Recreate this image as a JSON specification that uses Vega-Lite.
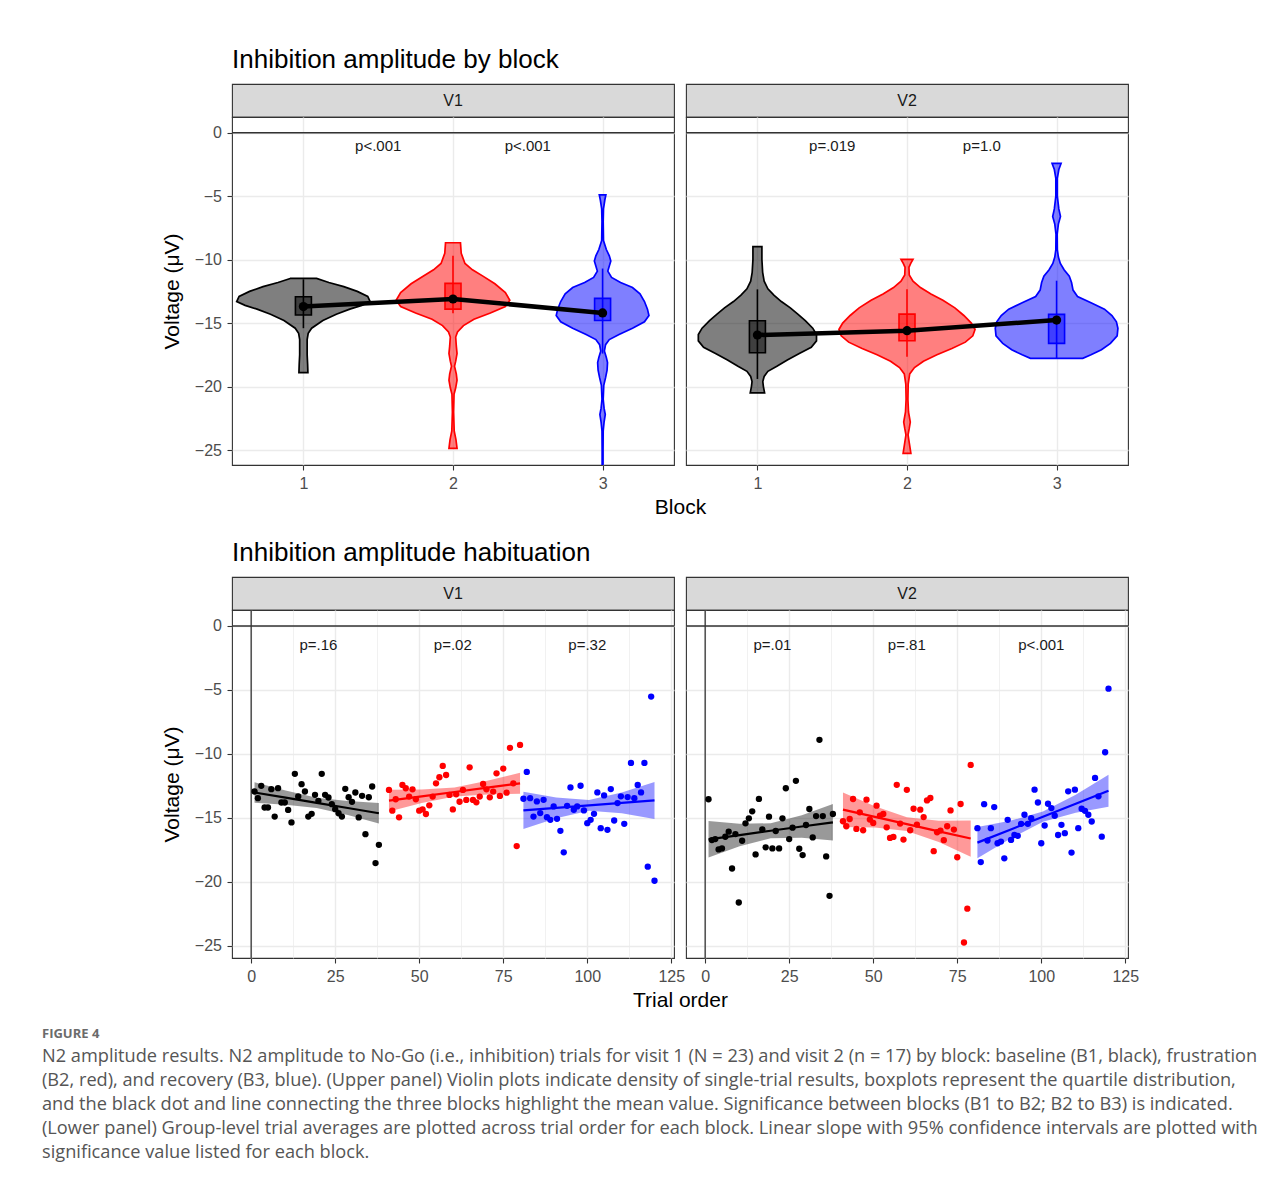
{
"$schema": "https://vega.github.io/schema/vega-lite/v6.json",
"background": "white",
"padding": {"left": 41, "top": 46, "right": 5, "bottom": 5},
"columns": 2,
"bounds": "flush",
"align": "each",
"spacing": {"row": 0, "column": 12},
"datasets": {
"strip": [{"visit": "V1"}, {"visit": "V2"}],
"vio": [
{"visit":"V1","block":1,"v":-11.48,"w":0.088},{"visit":"V1","block":1,"v":-11.8,"w":0.17},{"visit":"V1","block":1,"v":-12.13,"w":0.27},{"visit":"V1","block":1,"v":-12.5,"w":0.36},{"visit":"V1","block":1,"v":-12.9,"w":0.43},{"visit":"V1","block":1,"v":-13.3,"w":0.446},{"visit":"V1","block":1,"v":-13.6,"w":0.39},{"visit":"V1","block":1,"v":-13.9,"w":0.31},{"visit":"V1","block":1,"v":-14.3,"w":0.22},{"visit":"V1","block":1,"v":-14.8,"w":0.13},{"visit":"V1","block":1,"v":-15.4,"w":0.055},{"visit":"V1","block":1,"v":-15.8,"w":0.032},{"visit":"V1","block":1,"v":-16.3,"w":0.025},{"visit":"V1","block":1,"v":-17.5,"w":0.025},{"visit":"V1","block":1,"v":-18.2,"w":0.028},{"visit":"V1","block":1,"v":-18.9,"w":0.03},
{"visit":"V1","block":2,"v":-8.67,"w":0.05},{"visit":"V1","block":2,"v":-9.5,"w":0.055},{"visit":"V1","block":2,"v":-10.3,"w":0.08},{"visit":"V1","block":2,"v":-10.8,"w":0.13},{"visit":"V1","block":2,"v":-11.3,"w":0.2},{"visit":"V1","block":2,"v":-11.9,"w":0.28},{"visit":"V1","block":2,"v":-12.6,"w":0.35},{"visit":"V1","block":2,"v":-13.2,"w":0.38},{"visit":"V1","block":2,"v":-13.7,"w":0.35},{"visit":"V1","block":2,"v":-14.2,"w":0.25},{"visit":"V1","block":2,"v":-14.7,"w":0.14},{"visit":"V1","block":2,"v":-15.2,"w":0.07},{"visit":"V1","block":2,"v":-15.7,"w":0.03},{"visit":"V1","block":2,"v":-16.1,"w":0.018},{"visit":"V1","block":2,"v":-16.8,"w":0.022},{"visit":"V1","block":2,"v":-17.4,"w":0.027},{"visit":"V1","block":2,"v":-18.0,"w":0.018},{"visit":"V1","block":2,"v":-18.4,"w":0.01},{"visit":"V1","block":2,"v":-19.0,"w":0.022},{"visit":"V1","block":2,"v":-19.5,"w":0.027},{"visit":"V1","block":2,"v":-20.1,"w":0.018},{"visit":"V1","block":2,"v":-20.6,"w":0.007},{"visit":"V1","block":2,"v":-22.0,"w":0.004},{"visit":"V1","block":2,"v":-23.5,"w":0.008},{"visit":"V1","block":2,"v":-24.2,"w":0.02},{"visit":"V1","block":2,"v":-24.87,"w":0.027},
{"visit":"V1","block":3,"v":-4.9,"w":0.022},{"visit":"V1","block":3,"v":-5.3,"w":0.015},{"visit":"V1","block":3,"v":-6.0,"w":0.006},{"visit":"V1","block":3,"v":-7.0,"w":0.004},{"visit":"V1","block":3,"v":-8.5,"w":0.006},{"visit":"V1","block":3,"v":-9.2,"w":0.025},{"visit":"V1","block":3,"v":-9.7,"w":0.045},{"visit":"V1","block":3,"v":-10.1,"w":0.055},{"visit":"V1","block":3,"v":-10.5,"w":0.045},{"visit":"V1","block":3,"v":-10.9,"w":0.035},{"visit":"V1","block":3,"v":-11.4,"w":0.06},{"visit":"V1","block":3,"v":-11.8,"w":0.12},{"visit":"V1","block":3,"v":-12.2,"w":0.2},{"visit":"V1","block":3,"v":-12.7,"w":0.25},{"visit":"V1","block":3,"v":-13.3,"w":0.28},{"visit":"V1","block":3,"v":-13.9,"w":0.3},{"visit":"V1","block":3,"v":-14.4,"w":0.31},{"visit":"V1","block":3,"v":-14.9,"w":0.28},{"visit":"V1","block":3,"v":-15.4,"w":0.2},{"visit":"V1","block":3,"v":-15.9,"w":0.11},{"visit":"V1","block":3,"v":-16.3,"w":0.045},{"visit":"V1","block":3,"v":-16.7,"w":0.02},{"visit":"V1","block":3,"v":-17.2,"w":0.012},{"visit":"V1","block":3,"v":-17.7,"w":0.025},{"visit":"V1","block":3,"v":-18.1,"w":0.033},{"visit":"V1","block":3,"v":-18.7,"w":0.03},{"visit":"V1","block":3,"v":-19.3,"w":0.02},{"visit":"V1","block":3,"v":-19.9,"w":0.008},{"visit":"V1","block":3,"v":-21.0,"w":0.004},{"visit":"V1","block":3,"v":-21.7,"w":0.01},{"visit":"V1","block":3,"v":-22.2,"w":0.018},{"visit":"V1","block":3,"v":-22.8,"w":0.01},{"visit":"V1","block":3,"v":-23.5,"w":0.004},{"visit":"V1","block":3,"v":-25.0,"w":0.003},{"visit":"V1","block":3,"v":-26.5,"w":0.003},
{"visit":"V2","block":1,"v":-8.98,"w":0.03},{"visit":"V2","block":1,"v":-10.0,"w":0.03},{"visit":"V2","block":1,"v":-11.0,"w":0.035},{"visit":"V2","block":1,"v":-11.7,"w":0.045},{"visit":"V2","block":1,"v":-12.3,"w":0.07},{"visit":"V2","block":1,"v":-12.8,"w":0.11},{"visit":"V2","block":1,"v":-13.3,"w":0.16},{"visit":"V2","block":1,"v":-13.8,"w":0.22},{"visit":"V2","block":1,"v":-14.3,"w":0.27},{"visit":"V2","block":1,"v":-14.8,"w":0.32},{"visit":"V2","block":1,"v":-15.4,"w":0.37},{"visit":"V2","block":1,"v":-15.9,"w":0.395},{"visit":"V2","block":1,"v":-16.4,"w":0.395},{"visit":"V2","block":1,"v":-16.9,"w":0.36},{"visit":"V2","block":1,"v":-17.4,"w":0.28},{"visit":"V2","block":1,"v":-17.9,"w":0.2},{"visit":"V2","block":1,"v":-18.4,"w":0.13},{"visit":"V2","block":1,"v":-18.8,"w":0.07},{"visit":"V2","block":1,"v":-19.2,"w":0.045},{"visit":"V2","block":1,"v":-19.6,"w":0.036},{"visit":"V2","block":1,"v":-20.0,"w":0.04},{"visit":"V2","block":1,"v":-20.5,"w":0.048},
{"visit":"V2","block":2,"v":-9.98,"w":0.04},{"visit":"V2","block":2,"v":-10.3,"w":0.025},{"visit":"V2","block":2,"v":-10.6,"w":0.013},{"visit":"V2","block":2,"v":-11.2,"w":0.015},{"visit":"V2","block":2,"v":-11.7,"w":0.04},{"visit":"V2","block":2,"v":-12.2,"w":0.09},{"visit":"V2","block":2,"v":-12.7,"w":0.16},{"visit":"V2","block":2,"v":-13.2,"w":0.24},{"visit":"V2","block":2,"v":-13.8,"w":0.32},{"visit":"V2","block":2,"v":-14.4,"w":0.38},{"visit":"V2","block":2,"v":-15.0,"w":0.43},{"visit":"V2","block":2,"v":-15.5,"w":0.455},{"visit":"V2","block":2,"v":-16.0,"w":0.44},{"visit":"V2","block":2,"v":-16.5,"w":0.39},{"visit":"V2","block":2,"v":-17.0,"w":0.3},{"visit":"V2","block":2,"v":-17.5,"w":0.2},{"visit":"V2","block":2,"v":-18.0,"w":0.11},{"visit":"V2","block":2,"v":-18.5,"w":0.05},{"visit":"V2","block":2,"v":-19.0,"w":0.018},{"visit":"V2","block":2,"v":-19.8,"w":0.008},{"visit":"V2","block":2,"v":-21.0,"w":0.006},{"visit":"V2","block":2,"v":-22.0,"w":0.01},{"visit":"V2","block":2,"v":-22.8,"w":0.022},{"visit":"V2","block":2,"v":-23.3,"w":0.015},{"visit":"V2","block":2,"v":-23.8,"w":0.007},{"visit":"V2","block":2,"v":-24.5,"w":0.016},{"visit":"V2","block":2,"v":-25.26,"w":0.026},
{"visit":"V2","block":3,"v":-2.42,"w":0.03},{"visit":"V2","block":3,"v":-2.9,"w":0.015},{"visit":"V2","block":3,"v":-3.6,"w":0.005},{"visit":"V2","block":3,"v":-5.0,"w":0.005},{"visit":"V2","block":3,"v":-6.0,"w":0.015},{"visit":"V2","block":3,"v":-6.6,"w":0.026},{"visit":"V2","block":3,"v":-7.2,"w":0.012},{"visit":"V2","block":3,"v":-8.0,"w":0.004},{"visit":"V2","block":3,"v":-9.2,"w":0.005},{"visit":"V2","block":3,"v":-9.8,"w":0.012},{"visit":"V2","block":3,"v":-10.3,"w":0.025},{"visit":"V2","block":3,"v":-10.8,"w":0.05},{"visit":"V2","block":3,"v":-11.3,"w":0.085},{"visit":"V2","block":3,"v":-11.8,"w":0.1},{"visit":"V2","block":3,"v":-12.4,"w":0.11},{"visit":"V2","block":3,"v":-12.9,"w":0.14},{"visit":"V2","block":3,"v":-13.4,"w":0.23},{"visit":"V2","block":3,"v":-13.9,"w":0.32},{"visit":"V2","block":3,"v":-14.4,"w":0.37},{"visit":"V2","block":3,"v":-14.9,"w":0.4},{"visit":"V2","block":3,"v":-15.4,"w":0.41},{"visit":"V2","block":3,"v":-16.0,"w":0.405},{"visit":"V2","block":3,"v":-16.6,"w":0.36},{"visit":"V2","block":3,"v":-17.1,"w":0.3},{"visit":"V2","block":3,"v":-17.5,"w":0.23},{"visit":"V2","block":3,"v":-17.78,"w":0.175}
],
"box": [
{"visit":"V1","block":1,"q1":-14.36,"q3":-12.92,"lo":-15.4,"hi":-11.55,"mean":-13.7},
{"visit":"V1","block":2,"q1":-13.9,"q3":-11.87,"lo":-14.23,"hi":-9.7,"mean":-13.1},
{"visit":"V1","block":3,"q1":-14.8,"q3":-13.05,"lo":-17.4,"hi":-10.7,"mean":-14.2},
{"visit":"V2","block":1,"q1":-17.33,"q3":-14.81,"lo":-19.4,"hi":-12.34,"mean":-15.94},
{"visit":"V2","block":2,"q1":-16.39,"q3":-14.29,"lo":-17.65,"hi":-12.34,"mean":-15.6},
{"visit":"V2","block":3,"q1":-16.6,"q3":-14.31,"lo":-17.78,"hi":-11.66,"mean":-14.76}
],
"band": [
{"visit":"V1","block":1,"t":1,"fit":-13.02,"lo":-13.82,"hi":-12.22},{"visit":"V1","block":1,"t":10.25,"fit":-13.42,"lo":-13.97,"hi":-12.87},{"visit":"V1","block":1,"t":19.5,"fit":-13.83,"lo":-14.23,"hi":-13.43},{"visit":"V1","block":1,"t":28.75,"fit":-14.23,"lo":-14.78,"hi":-13.68},{"visit":"V1","block":1,"t":38,"fit":-14.64,"lo":-15.44,"hi":-13.84},
{"visit":"V1","block":2,"t":41,"fit":-13.66,"lo":-14.51,"hi":-12.81},{"visit":"V1","block":2,"t":50.75,"fit":-13.32,"lo":-13.85,"hi":-12.79},{"visit":"V1","block":2,"t":60.5,"fit":-12.98,"lo":-13.33,"hi":-12.63},{"visit":"V1","block":2,"t":70.25,"fit":-12.64,"lo":-13.17,"hi":-12.11},{"visit":"V1","block":2,"t":80,"fit":-12.3,"lo":-13.12,"hi":-11.48},
{"visit":"V1","block":3,"t":81,"fit":-14.42,"lo":-15.87,"hi":-12.97},{"visit":"V1","block":3,"t":90.75,"fit":-14.22,"lo":-15.03,"hi":-13.41},{"visit":"V1","block":3,"t":100.5,"fit":-14.03,"lo":-14.45,"hi":-13.61},{"visit":"V1","block":3,"t":110.25,"fit":-13.83,"lo":-14.64,"hi":-13.02},{"visit":"V1","block":3,"t":120,"fit":-13.64,"lo":-15.09,"hi":-12.19},
{"visit":"V2","block":1,"t":1,"fit":-16.68,"lo":-18.11,"hi":-15.25},{"visit":"V2","block":1,"t":10.25,"fit":-16.35,"lo":-17.23,"hi":-15.47},{"visit":"V2","block":1,"t":19.5,"fit":-16.01,"lo":-16.6,"hi":-15.42},{"visit":"V2","block":1,"t":28.75,"fit":-15.68,"lo":-16.56,"hi":-14.8},{"visit":"V2","block":1,"t":38,"fit":-15.35,"lo":-16.78,"hi":-13.92},
{"visit":"V2","block":2,"t":41,"fit":-14.36,"lo":-15.71,"hi":-13.01},{"visit":"V2","block":2,"t":50.5,"fit":-14.93,"lo":-15.76,"hi":-14.1},{"visit":"V2","block":2,"t":60,"fit":-15.49,"lo":-16.03,"hi":-14.95},{"visit":"V2","block":2,"t":69.5,"fit":-16.06,"lo":-16.89,"hi":-15.23},{"visit":"V2","block":2,"t":79,"fit":-16.62,"lo":-18.04,"hi":-15.2},
{"visit":"V2","block":3,"t":81,"fit":-16.94,"lo":-18.17,"hi":-15.71},{"visit":"V2","block":3,"t":90.75,"fit":-15.93,"lo":-16.63,"hi":-15.23},{"visit":"V2","block":3,"t":100.5,"fit":-14.91,"lo":-15.31,"hi":-14.51},{"visit":"V2","block":3,"t":110.25,"fit":-13.9,"lo":-14.6,"hi":-13.2},{"visit":"V2","block":3,"t":120,"fit":-12.88,"lo":-14.13,"hi":-11.63}
],
"plab": [
{"visit":"V1","panel":"up","x":1.5,"label":"p<.001"},{"visit":"V1","panel":"up","x":2.5,"label":"p<.001"},
{"visit":"V2","panel":"up","x":1.5,"label":"p=.019"},{"visit":"V2","panel":"up","x":2.5,"label":"p=1.0"},
{"visit":"V1","panel":"low","x":20,"label":"p=.16"},{"visit":"V1","panel":"low","x":60,"label":"p=.02"},{"visit":"V1","panel":"low","x":100,"label":"p=.32"},
{"visit":"V2","panel":"low","x":20,"label":"p=.01"},{"visit":"V2","panel":"low","x":60,"label":"p=.81"},{"visit":"V2","panel":"low","x":100,"label":"p<.001"}
],
"pts": [
{"visit":"V1","block":1,"t":1,"v":-12.94},{"visit":"V1","block":1,"t":2,"v":-13.46},{"visit":"V1","block":1,"t":3,"v":-12.5},{"visit":"V1","block":1,"t":4,"v":-14.19},{"visit":"V1","block":1,"t":5,"v":-14.19},{"visit":"V1","block":1,"t":6,"v":-12.76},{"visit":"V1","block":1,"t":7,"v":-14.9},{"visit":"V1","block":1,"t":8,"v":-12.68},{"visit":"V1","block":1,"t":9,"v":-13.8},{"visit":"V1","block":1,"t":10,"v":-13.8},{"visit":"V1","block":1,"t":11,"v":-14.38},{"visit":"V1","block":1,"t":12,"v":-15.36},{"visit":"V1","block":1,"t":13,"v":-11.56},{"visit":"V1","block":1,"t":14,"v":-13.33},{"visit":"V1","block":1,"t":15,"v":-12.37},{"visit":"V1","block":1,"t":16,"v":-12.94},{"visit":"V1","block":1,"t":17,"v":-14.9},{"visit":"V1","block":1,"t":18,"v":-14.69},{"visit":"V1","block":1,"t":19,"v":-13.2},{"visit":"V1","block":1,"t":20,"v":-13.67},{"visit":"V1","block":1,"t":21,"v":-11.56},{"visit":"V1","block":1,"t":22,"v":-13.2},{"visit":"V1","block":1,"t":23,"v":-13.41},{"visit":"V1","block":1,"t":24,"v":-13.93},{"visit":"V1","block":1,"t":25,"v":-14.32},{"visit":"V1","block":1,"t":26,"v":-14.64},{"visit":"V1","block":1,"t":27,"v":-14.9},{"visit":"V1","block":1,"t":28,"v":-12.73},{"visit":"V1","block":1,"t":29,"v":-13.39},{"visit":"V1","block":1,"t":30,"v":-13.75},{"visit":"V1","block":1,"t":31,"v":-13.02},{"visit":"V1","block":1,"t":32,"v":-14.97},{"visit":"V1","block":1,"t":33,"v":-13.28},{"visit":"V1","block":1,"t":34,"v":-16.28},{"visit":"V1","block":1,"t":35,"v":-13.39},{"visit":"V1","block":1,"t":36,"v":-12.55},{"visit":"V1","block":1,"t":37,"v":-18.54},{"visit":"V1","block":1,"t":38,"v":-17.11},
{"visit":"V1","block":2,"t":41,"v":-12.82},{"visit":"V1","block":2,"t":42,"v":-14.44},{"visit":"V1","block":2,"t":43,"v":-13.55},{"visit":"V1","block":2,"t":44,"v":-14.96},{"visit":"V1","block":2,"t":45,"v":-12.43},{"visit":"V1","block":2,"t":46,"v":-12.69},{"visit":"V1","block":2,"t":47,"v":-13.34},{"visit":"V1","block":2,"t":48,"v":-12.77},{"visit":"V1","block":2,"t":49,"v":-13.55},{"visit":"V1","block":2,"t":50,"v":-14.44},{"visit":"V1","block":2,"t":51,"v":-14.34},{"visit":"V1","block":2,"t":52,"v":-14.7},{"visit":"V1","block":2,"t":53,"v":-14.02},{"visit":"V1","block":2,"t":54,"v":-13.34},{"visit":"V1","block":2,"t":55,"v":-12.3},{"visit":"V1","block":2,"t":56,"v":-11.83},{"visit":"V1","block":2,"t":57,"v":-10.94},{"visit":"V1","block":2,"t":58,"v":-11.65},{"visit":"V1","block":2,"t":59,"v":-13.21},{"visit":"V1","block":2,"t":60,"v":-14.34},{"visit":"V1","block":2,"t":61,"v":-13.16},{"visit":"V1","block":2,"t":62,"v":-13.74},{"visit":"V1","block":2,"t":63,"v":-12.82},{"visit":"V1","block":2,"t":64,"v":-13.6},{"visit":"V1","block":2,"t":65,"v":-11.05},{"visit":"V1","block":2,"t":66,"v":-13.6},{"visit":"V1","block":2,"t":67,"v":-13.79},{"visit":"V1","block":2,"t":68,"v":-13.34},{"visit":"V1","block":2,"t":69,"v":-12.35},{"visit":"V1","block":2,"t":70,"v":-12.77},{"visit":"V1","block":2,"t":71,"v":-13.4},{"visit":"V1","block":2,"t":72,"v":-12.95},{"visit":"V1","block":2,"t":73,"v":-11.52},{"visit":"V1","block":2,"t":74,"v":-13.29},{"visit":"V1","block":2,"t":75,"v":-11.15},{"visit":"V1","block":2,"t":76,"v":-13.03},{"visit":"V1","block":2,"t":77,"v":-9.53},{"visit":"V1","block":2,"t":78,"v":-12.3},{"visit":"V1","block":2,"t":79,"v":-17.21},{"visit":"V1","block":2,"t":80,"v":-9.3},
{"visit":"V1","block":3,"t":81,"v":-13.51},{"visit":"V1","block":3,"t":82,"v":-11.41},{"visit":"V1","block":3,"t":83,"v":-13.46},{"visit":"V1","block":3,"t":84,"v":-14.9},{"visit":"V1","block":3,"t":85,"v":-13.72},{"visit":"V1","block":3,"t":86,"v":-14.63},{"visit":"V1","block":3,"t":87,"v":-13.59},{"visit":"V1","block":3,"t":88,"v":-14.95},{"visit":"V1","block":3,"t":89,"v":-15.16},{"visit":"V1","block":3,"t":90,"v":-14.11},{"visit":"V1","block":3,"t":91,"v":-15.08},{"visit":"V1","block":3,"t":92,"v":-16.02},{"visit":"V1","block":3,"t":93,"v":-17.7},{"visit":"V1","block":3,"t":94,"v":-14.06},{"visit":"V1","block":3,"t":95,"v":-12.62},{"visit":"V1","block":3,"t":96,"v":-14.37},{"visit":"V1","block":3,"t":97,"v":-14.11},{"visit":"V1","block":3,"t":98,"v":-12.49},{"visit":"V1","block":3,"t":99,"v":-14.42},{"visit":"V1","block":3,"t":100,"v":-15.42},{"visit":"V1","block":3,"t":101,"v":-15.16},{"visit":"V1","block":3,"t":102,"v":-14.69},{"visit":"V1","block":3,"t":103,"v":-13.01},{"visit":"V1","block":3,"t":104,"v":-15.81},{"visit":"V1","block":3,"t":105,"v":-13.25},{"visit":"V1","block":3,"t":106,"v":-15.94},{"visit":"V1","block":3,"t":107,"v":-12.75},{"visit":"V1","block":3,"t":108,"v":-15.21},{"visit":"V1","block":3,"t":109,"v":-13.85},{"visit":"V1","block":3,"t":110,"v":-13.32},{"visit":"V1","block":3,"t":111,"v":-15.47},{"visit":"V1","block":3,"t":112,"v":-13.38},{"visit":"V1","block":3,"t":113,"v":-10.71},{"visit":"V1","block":3,"t":114,"v":-13.46},{"visit":"V1","block":3,"t":115,"v":-12.43},{"visit":"V1","block":3,"t":116,"v":-13.01},{"visit":"V1","block":3,"t":117,"v":-10.71},{"visit":"V1","block":3,"t":118,"v":-18.82},{"visit":"V1","block":3,"t":119,"v":-5.52},{"visit":"V1","block":3,"t":120,"v":-19.92},
{"visit":"V2","block":1,"t":1,"v":-13.55},{"visit":"V2","block":1,"t":2,"v":-16.74},{"visit":"V2","block":1,"t":3,"v":-16.66},{"visit":"V2","block":1,"t":4,"v":-17.47},{"visit":"V2","block":1,"t":5,"v":-17.39},{"visit":"V2","block":1,"t":6,"v":-16.48},{"visit":"V2","block":1,"t":7,"v":-16.08},{"visit":"V2","block":1,"t":8,"v":-18.96},{"visit":"V2","block":1,"t":9,"v":-16.27},{"visit":"V2","block":1,"t":10,"v":-21.62},{"visit":"V2","block":1,"t":11,"v":-16.79},{"visit":"V2","block":1,"t":12,"v":-15.43},{"visit":"V2","block":1,"t":13,"v":-15.04},{"visit":"V2","block":1,"t":14,"v":-14.49},{"visit":"V2","block":1,"t":15,"v":-17.86},{"visit":"V2","block":1,"t":16,"v":-13.52},{"visit":"V2","block":1,"t":17,"v":-15.9},{"visit":"V2","block":1,"t":18,"v":-17.31},{"visit":"V2","block":1,"t":19,"v":-14.91},{"visit":"V2","block":1,"t":20,"v":-17.39},{"visit":"V2","block":1,"t":21,"v":-16.03},{"visit":"V2","block":1,"t":22,"v":-17.39},{"visit":"V2","block":1,"t":23,"v":-15.04},{"visit":"V2","block":1,"t":24,"v":-12.69},{"visit":"V2","block":1,"t":25,"v":-16.66},{"visit":"V2","block":1,"t":26,"v":-15.77},{"visit":"V2","block":1,"t":27,"v":-12.11},{"visit":"V2","block":1,"t":28,"v":-17.42},{"visit":"V2","block":1,"t":29,"v":-17.91},{"visit":"V2","block":1,"t":30,"v":-15.56},{"visit":"V2","block":1,"t":31,"v":-14.31},{"visit":"V2","block":1,"t":32,"v":-16.53},{"visit":"V2","block":1,"t":33,"v":-14.86},{"visit":"V2","block":1,"t":34,"v":-8.9},{"visit":"V2","block":1,"t":35,"v":-14.86},{"visit":"V2","block":1,"t":36,"v":-18.02},{"visit":"V2","block":1,"t":37,"v":-21.1},{"visit":"V2","block":1,"t":38,"v":-14.7},
{"visit":"V2","block":2,"t":41,"v":-15.27},{"visit":"V2","block":2,"t":42,"v":-15.66},{"visit":"V2","block":2,"t":43,"v":-15.09},{"visit":"V2","block":2,"t":44,"v":-13.53},{"visit":"V2","block":2,"t":45,"v":-15.87},{"visit":"V2","block":2,"t":46,"v":-14.57},{"visit":"V2","block":2,"t":47,"v":-15.97},{"visit":"V2","block":2,"t":48,"v":-13.58},{"visit":"V2","block":2,"t":49,"v":-15.14},{"visit":"V2","block":2,"t":50,"v":-15.4},{"visit":"V2","block":2,"t":51,"v":-14.05},{"visit":"V2","block":2,"t":52,"v":-14.83},{"visit":"V2","block":2,"t":53,"v":-14.7},{"visit":"V2","block":2,"t":54,"v":-15.74},{"visit":"V2","block":2,"t":55,"v":-16.57},{"visit":"V2","block":2,"t":56,"v":-16.49},{"visit":"V2","block":2,"t":57,"v":-12.42},{"visit":"V2","block":2,"t":58,"v":-15.45},{"visit":"V2","block":2,"t":59,"v":-16.7},{"visit":"V2","block":2,"t":60,"v":-12.81},{"visit":"V2","block":2,"t":61,"v":-15.97},{"visit":"V2","block":2,"t":62,"v":-14.29},{"visit":"V2","block":2,"t":63,"v":-15.53},{"visit":"V2","block":2,"t":64,"v":-14.36},{"visit":"V2","block":2,"t":65,"v":-14.94},{"visit":"V2","block":2,"t":66,"v":-13.64},{"visit":"V2","block":2,"t":67,"v":-13.45},{"visit":"V2","block":2,"t":68,"v":-17.61},{"visit":"V2","block":2,"t":69,"v":-16.13},{"visit":"V2","block":2,"t":70,"v":-16.0},{"visit":"V2","block":2,"t":71,"v":-16.75},{"visit":"V2","block":2,"t":72,"v":-15.66},{"visit":"V2","block":2,"t":73,"v":-14.42},{"visit":"V2","block":2,"t":74,"v":-15.92},{"visit":"V2","block":2,"t":75,"v":-18.08},{"visit":"V2","block":2,"t":76,"v":-13.92},{"visit":"V2","block":2,"t":77,"v":-24.75},{"visit":"V2","block":2,"t":78,"v":-22.1},{"visit":"V2","block":2,"t":79,"v":-10.86},
{"visit":"V2","block":3,"t":81,"v":-15.81},{"visit":"V2","block":3,"t":82,"v":-18.46},{"visit":"V2","block":3,"t":83,"v":-13.93},{"visit":"V2","block":3,"t":84,"v":-16.78},{"visit":"V2","block":3,"t":85,"v":-15.81},{"visit":"V2","block":3,"t":86,"v":-14.16},{"visit":"V2","block":3,"t":87,"v":-16.99},{"visit":"V2","block":3,"t":88,"v":-16.86},{"visit":"V2","block":3,"t":89,"v":-18.17},{"visit":"V2","block":3,"t":90,"v":-15.16},{"visit":"V2","block":3,"t":91,"v":-16.73},{"visit":"V2","block":3,"t":92,"v":-16.34},{"visit":"V2","block":3,"t":93,"v":-16.41},{"visit":"V2","block":3,"t":94,"v":-15.47},{"visit":"V2","block":3,"t":95,"v":-14.76},{"visit":"V2","block":3,"t":96,"v":-15.47},{"visit":"V2","block":3,"t":97,"v":-15.03},{"visit":"V2","block":3,"t":98,"v":-12.8},{"visit":"V2","block":3,"t":99,"v":-13.8},{"visit":"V2","block":3,"t":100,"v":-16.99},{"visit":"V2","block":3,"t":101,"v":-15.6},{"visit":"V2","block":3,"t":102,"v":-13.9},{"visit":"V2","block":3,"t":103,"v":-14.24},{"visit":"V2","block":3,"t":104,"v":-14.84},{"visit":"V2","block":3,"t":105,"v":-16.34},{"visit":"V2","block":3,"t":106,"v":-15.55},{"visit":"V2","block":3,"t":107,"v":-16.2},{"visit":"V2","block":3,"t":108,"v":-12.93},{"visit":"V2","block":3,"t":109,"v":-17.72},{"visit":"V2","block":3,"t":110,"v":-12.8},{"visit":"V2","block":3,"t":111,"v":-15.81},{"visit":"V2","block":3,"t":112,"v":-14.29},{"visit":"V2","block":3,"t":113,"v":-14.45},{"visit":"V2","block":3,"t":114,"v":-14.76},{"visit":"V2","block":3,"t":115,"v":-15.29},{"visit":"V2","block":3,"t":116,"v":-11.88},{"visit":"V2","block":3,"t":117,"v":-13.32},{"visit":"V2","block":3,"t":118,"v":-16.47},{"visit":"V2","block":3,"t":119,"v":-9.87},{"visit":"V2","block":3,"t":120,"v":-4.9}
]
},
"concat": [
{"width": 442, "height": 33, "view": {"fill": "#D9D9D9", "stroke": "#333333", "strokeWidth": 1.1},
 "title": {"text": "Inhibition amplitude by block"},
 "data": {"name": "strip"}, "transform": [{"filter": "datum.visit === 'V1'"}],
 "mark": {"type": "text", "fontSize": 16, "color": "#1A1A1A"},
 "encoding": {"text": {"field": "visit"}}},
{"width": 442, "height": 33, "view": {"fill": "#D9D9D9", "stroke": "#333333", "strokeWidth": 1.1},
 "data": {"name": "strip"}, "transform": [{"filter": "datum.visit === 'V2'"}],
 "mark": {"type": "text", "fontSize": 16, "color": "#1A1A1A"},
 "encoding": {"text": {"field": "visit"}}},
{"width": 442, "height": 348,
 "layer": [
  {"data": {"values": [{}]}, "mark": {"type": "rule", "color": "#333333", "strokeWidth": 1.3},
   "encoding": {"y": {"datum": 0, "type": "quantitative", "scale": {"domain": [-26.18, 1.24], "nice": false, "zero": false},
     "axis": {"values": [-25, -22.5, -20, -17.5, -15, -12.5, -10, -7.5, -5, -2.5, 0], "format": ".0f", "labelExpr": "datum.value % 5 === 0 ? datum.label : ''", "title": "Voltage (μV)", "titlePadding": 12, "grid": true,
       "gridWidth": {"condition": {"test": "datum.value % 5 === 0", "value": 1.4}, "value": 0.7},
       "tickOpacity": {"condition": {"test": "datum.value % 5 === 0", "value": 1}, "value": 0}}}}},
  {"data": {"name": "vio"}, "transform": [{"filter": "datum.visit === 'V1'"}, {"calculate": "datum.block - datum.w", "as": "lo"}, {"calculate": "datum.block + datum.w", "as": "hi"}],
   "mark": {"type": "area", "orient": "horizontal", "fillOpacity": 0.5, "strokeWidth": 1.7, "clip": true},
   "encoding": {
    "y": {"field": "v", "type": "quantitative", "scale": {"domain": [-26.18, 1.24], "nice": false, "zero": false}},
    "x": {"field": "lo", "type": "quantitative", "scale": {"domain": [0.556, 3.444], "nice": false, "zero": false},
      "axis": {"values": [1, 2, 3], "labelExpr": "'' + datum.value", "title": "Block", "titleX": 448, "grid": true, "gridWidth": 1.4}},
    "x2": {"field": "hi"},
    "fill": {"field": "block", "type": "nominal", "scale": {"domain": [1, 2, 3], "range": ["#000000", "#FF0000", "#0000FF"]}, "legend": null},
    "stroke": {"field": "block", "type": "nominal", "scale": {"domain": [1, 2, 3], "range": ["#000000", "#FF0000", "#0000FF"]}, "legend": null}}},
  {"data": {"name": "box"}, "transform": [{"filter": "datum.visit === 'V1'"}],
   "mark": {"type": "rule", "strokeWidth": 1.6},
   "encoding": {
    "x": {"field": "block", "type": "quantitative", "scale": {"domain": [0.556, 3.444], "nice": false, "zero": false}},
    "y": {"field": "lo", "type": "quantitative", "scale": {"domain": [-26.18, 1.24], "nice": false, "zero": false}},
    "y2": {"field": "hi"},
    "stroke": {"field": "block", "type": "nominal", "scale": {"domain": [1, 2, 3], "range": ["#000000", "#FF0000", "#0000FF"]}, "legend": null}}},
  {"data": {"name": "box"}, "transform": [{"filter": "datum.visit === 'V1'"}],
   "mark": {"type": "bar", "width": 16, "fillOpacity": 0.5, "strokeWidth": 1.6},
   "encoding": {
    "x": {"field": "block", "type": "quantitative", "scale": {"domain": [0.556, 3.444], "nice": false, "zero": false}},
    "y": {"field": "q1", "type": "quantitative", "scale": {"domain": [-26.18, 1.24], "nice": false, "zero": false}},
    "y2": {"field": "q3"},
    "fill": {"field": "block", "type": "nominal", "scale": {"domain": [1, 2, 3], "range": ["#000000", "#FF0000", "#0000FF"]}, "legend": null},
    "stroke": {"field": "block", "type": "nominal", "scale": {"domain": [1, 2, 3], "range": ["#000000", "#FF0000", "#0000FF"]}, "legend": null}}},
  {"data": {"name": "box"}, "transform": [{"filter": "datum.visit === 'V1'"}],
   "mark": {"type": "line", "color": "#000000", "strokeWidth": 4.5},
   "encoding": {
    "x": {"field": "block", "type": "quantitative", "scale": {"domain": [0.556, 3.444], "nice": false, "zero": false}},
    "y": {"field": "mean", "type": "quantitative", "scale": {"domain": [-26.18, 1.24], "nice": false, "zero": false}}}},
  {"data": {"name": "box"}, "transform": [{"filter": "datum.visit === 'V1'"}],
   "mark": {"type": "point", "filled": true, "color": "#000000", "size": 85, "opacity": 1},
   "encoding": {
    "x": {"field": "block", "type": "quantitative", "scale": {"domain": [0.556, 3.444], "nice": false, "zero": false}},
    "y": {"field": "mean", "type": "quantitative", "scale": {"domain": [-26.18, 1.24], "nice": false, "zero": false}}}},
  {"data": {"name": "plab"}, "transform": [{"filter": "datum.visit === 'V1' && datum.panel === 'up'"}],
   "mark": {"type": "text", "fontSize": 15, "color": "#1A1A1A"},
   "encoding": {
    "x": {"field": "x", "type": "quantitative", "scale": {"domain": [0.556, 3.444], "nice": false, "zero": false}},
    "y": {"datum": -1.05, "type": "quantitative", "scale": {"domain": [-26.18, 1.24], "nice": false, "zero": false}},
    "text": {"field": "label"}}}
 ]},
{"width": 442, "height": 348,
 "layer": [
  {"data": {"values": [{}]}, "mark": {"type": "rule", "color": "#333333", "strokeWidth": 1.3},
   "encoding": {"y": {"datum": 0, "type": "quantitative", "scale": {"domain": [-26.18, 1.24], "nice": false, "zero": false},
     "axis": {"values": [-25, -22.5, -20, -17.5, -15, -12.5, -10, -7.5, -5, -2.5, 0], "labels": false, "ticks": false, "title": null, "grid": true,
       "gridWidth": {"condition": {"test": "datum.value % 5 === 0", "value": 1.4}, "value": 0.7}}}}},
  {"data": {"name": "vio"}, "transform": [{"filter": "datum.visit === 'V2'"}, {"calculate": "datum.block - datum.w", "as": "lo"}, {"calculate": "datum.block + datum.w", "as": "hi"}],
   "mark": {"type": "area", "orient": "horizontal", "fillOpacity": 0.5, "strokeWidth": 1.7, "clip": true},
   "encoding": {
    "y": {"field": "v", "type": "quantitative", "scale": {"domain": [-26.18, 1.24], "nice": false, "zero": false}},
    "x": {"field": "lo", "type": "quantitative", "scale": {"domain": [0.556, 3.444], "nice": false, "zero": false},
      "axis": {"values": [1, 2, 3], "labelExpr": "'' + datum.value", "title": null, "grid": true, "gridWidth": 1.4}},
    "x2": {"field": "hi"},
    "fill": {"field": "block", "type": "nominal", "scale": {"domain": [1, 2, 3], "range": ["#000000", "#FF0000", "#0000FF"]}, "legend": null},
    "stroke": {"field": "block", "type": "nominal", "scale": {"domain": [1, 2, 3], "range": ["#000000", "#FF0000", "#0000FF"]}, "legend": null}}},
  {"data": {"name": "box"}, "transform": [{"filter": "datum.visit === 'V2'"}],
   "mark": {"type": "rule", "strokeWidth": 1.6},
   "encoding": {
    "x": {"field": "block", "type": "quantitative", "scale": {"domain": [0.556, 3.444], "nice": false, "zero": false}},
    "y": {"field": "lo", "type": "quantitative", "scale": {"domain": [-26.18, 1.24], "nice": false, "zero": false}},
    "y2": {"field": "hi"},
    "stroke": {"field": "block", "type": "nominal", "scale": {"domain": [1, 2, 3], "range": ["#000000", "#FF0000", "#0000FF"]}, "legend": null}}},
  {"data": {"name": "box"}, "transform": [{"filter": "datum.visit === 'V2'"}],
   "mark": {"type": "bar", "width": 16, "fillOpacity": 0.5, "strokeWidth": 1.6},
   "encoding": {
    "x": {"field": "block", "type": "quantitative", "scale": {"domain": [0.556, 3.444], "nice": false, "zero": false}},
    "y": {"field": "q1", "type": "quantitative", "scale": {"domain": [-26.18, 1.24], "nice": false, "zero": false}},
    "y2": {"field": "q3"},
    "fill": {"field": "block", "type": "nominal", "scale": {"domain": [1, 2, 3], "range": ["#000000", "#FF0000", "#0000FF"]}, "legend": null},
    "stroke": {"field": "block", "type": "nominal", "scale": {"domain": [1, 2, 3], "range": ["#000000", "#FF0000", "#0000FF"]}, "legend": null}}},
  {"data": {"name": "box"}, "transform": [{"filter": "datum.visit === 'V2'"}],
   "mark": {"type": "line", "color": "#000000", "strokeWidth": 4.5},
   "encoding": {
    "x": {"field": "block", "type": "quantitative", "scale": {"domain": [0.556, 3.444], "nice": false, "zero": false}},
    "y": {"field": "mean", "type": "quantitative", "scale": {"domain": [-26.18, 1.24], "nice": false, "zero": false}}}},
  {"data": {"name": "box"}, "transform": [{"filter": "datum.visit === 'V2'"}],
   "mark": {"type": "point", "filled": true, "color": "#000000", "size": 85, "opacity": 1},
   "encoding": {
    "x": {"field": "block", "type": "quantitative", "scale": {"domain": [0.556, 3.444], "nice": false, "zero": false}},
    "y": {"field": "mean", "type": "quantitative", "scale": {"domain": [-26.18, 1.24], "nice": false, "zero": false}}}},
  {"data": {"name": "plab"}, "transform": [{"filter": "datum.visit === 'V2' && datum.panel === 'up'"}],
   "mark": {"type": "text", "fontSize": 15, "color": "#1A1A1A"},
   "encoding": {
    "x": {"field": "x", "type": "quantitative", "scale": {"domain": [0.556, 3.444], "nice": false, "zero": false}},
    "y": {"datum": -1.05, "type": "quantitative", "scale": {"domain": [-26.18, 1.24], "nice": false, "zero": false}},
    "text": {"field": "label"}}}
 ]},
{"width": 442, "height": 112, "view": {"stroke": null}, "data": {"values": []}, "mark": "point", "encoding": {}},
{"width": 442, "height": 112, "view": {"stroke": null}, "data": {"values": []}, "mark": "point", "encoding": {}},
{"width": 442, "height": 33, "view": {"fill": "#D9D9D9", "stroke": "#333333", "strokeWidth": 1.1},
 "title": {"text": "Inhibition amplitude habituation"},
 "data": {"name": "strip"}, "transform": [{"filter": "datum.visit === 'V1'"}],
 "mark": {"type": "text", "fontSize": 16, "color": "#1A1A1A"},
 "encoding": {"text": {"field": "visit"}}},
{"width": 442, "height": 33, "view": {"fill": "#D9D9D9", "stroke": "#333333", "strokeWidth": 1.1},
 "data": {"name": "strip"}, "transform": [{"filter": "datum.visit === 'V2'"}],
 "mark": {"type": "text", "fontSize": 16, "color": "#1A1A1A"},
 "encoding": {"text": {"field": "visit"}}},
{"width": 442, "height": 348,
 "title": {"text": "FIGURE 4", "subtitle": ["N2 amplitude results. N2 amplitude to No-Go (i.e., inhibition) trials for visit 1 (N = 23) and visit 2 (n = 17) by block: baseline (B1, black), frustration", "(B2, red), and recovery (B3, blue). (Upper panel) Violin plots indicate density of single-trial results, boxplots represent the quartile distribution,", "and the black dot and line connecting the three blocks highlight the mean value. Significance between blocks (B1 to B2; B2 to B3) is indicated.", "(Lower panel) Group-level trial averages are plotted across trial order for each block. Linear slope with 95% confidence intervals are plotted with", "significance value listed for each block."],
   "orient": "bottom", "anchor": "start", "frame": "group", "dx": -190, "offset": 17, "font": "Open Sans", "fontSize": 13, "fontWeight": "bold", "color": "#6B6B6B",
   "subtitleFont": "Open Sans", "subtitleFontSize": 18.2, "subtitleColor": "#555555", "subtitleLineHeight": 24, "subtitlePadding": 7},
 "layer": [
  {"data": {"values": [{}]}, "mark": {"type": "rule", "color": "#333333", "strokeWidth": 1.3},
   "encoding": {"y": {"datum": 0, "type": "quantitative", "scale": {"domain": [-25.96, 1.25], "nice": false, "zero": false},
     "axis": {"values": [-25, -22.5, -20, -17.5, -15, -12.5, -10, -7.5, -5, -2.5, 0], "format": ".0f", "labelExpr": "datum.value % 5 === 0 ? datum.label : ''", "title": "Voltage (μV)", "titlePadding": 12, "grid": true,
       "gridWidth": {"condition": {"test": "datum.value % 5 === 0", "value": 1.4}, "value": 0.7},
       "tickOpacity": {"condition": {"test": "datum.value % 5 === 0", "value": 1}, "value": 0}}}}},
  {"data": {"values": [{}]}, "mark": {"type": "rule", "color": "#333333", "strokeWidth": 1.3},
   "encoding": {"x": {"datum": 0, "type": "quantitative", "scale": {"domain": [-5.7, 125.8], "nice": false, "zero": false},
     "axis": {"values": [0, 12.5, 25, 37.5, 50, 62.5, 75, 87.5, 100, 112.5, 125], "labelExpr": "datum.value % 25 === 0 ? '' + datum.value : ''", "title": "Trial order", "titleX": 448, "grid": true,
       "gridWidth": {"condition": {"test": "datum.value % 25 === 0", "value": 1.4}, "value": 0.7},
       "tickOpacity": {"condition": {"test": "datum.value % 25 === 0", "value": 1}, "value": 0}}}}},
  {"data": {"name": "band"}, "transform": [{"filter": "datum.visit === 'V1'"}],
   "mark": {"type": "area", "fillOpacity": 0.4},
   "encoding": {
    "x": {"field": "t", "type": "quantitative", "scale": {"domain": [-5.7, 125.8], "nice": false, "zero": false}},
    "y": {"field": "lo", "type": "quantitative", "scale": {"domain": [-25.96, 1.25], "nice": false, "zero": false}},
    "y2": {"field": "hi"},
    "fill": {"field": "block", "type": "nominal", "scale": {"domain": [1, 2, 3], "range": ["#000000", "#FF0000", "#0000FF"]}, "legend": null}}},
  {"data": {"name": "pts"}, "transform": [{"filter": "datum.visit === 'V1'"}],
   "mark": {"type": "circle", "size": 40, "opacity": 1},
   "encoding": {
    "x": {"field": "t", "type": "quantitative", "scale": {"domain": [-5.7, 125.8], "nice": false, "zero": false}},
    "y": {"field": "v", "type": "quantitative", "scale": {"domain": [-25.96, 1.25], "nice": false, "zero": false}},
    "color": {"field": "block", "type": "nominal", "scale": {"domain": [1, 2, 3], "range": ["#000000", "#FF0000", "#0000FF"]}, "legend": null}}},
  {"data": {"name": "band"}, "transform": [{"filter": "datum.visit === 'V1'"}],
   "mark": {"type": "line", "strokeWidth": 2.2},
   "encoding": {
    "x": {"field": "t", "type": "quantitative", "scale": {"domain": [-5.7, 125.8], "nice": false, "zero": false}},
    "y": {"field": "fit", "type": "quantitative", "scale": {"domain": [-25.96, 1.25], "nice": false, "zero": false}},
    "color": {"field": "block", "type": "nominal", "scale": {"domain": [1, 2, 3], "range": ["#000000", "#FF0000", "#0000FF"]}, "legend": null}}},
  {"data": {"name": "plab"}, "transform": [{"filter": "datum.visit === 'V1' && datum.panel === 'low'"}],
   "mark": {"type": "text", "fontSize": 15, "color": "#1A1A1A"},
   "encoding": {
    "x": {"field": "x", "type": "quantitative", "scale": {"domain": [-5.7, 125.8], "nice": false, "zero": false}},
    "y": {"datum": -1.5, "type": "quantitative", "scale": {"domain": [-25.96, 1.25], "nice": false, "zero": false}},
    "text": {"field": "label"}}}
 ]},
{"width": 442, "height": 348,
 "layer": [
  {"data": {"values": [{}]}, "mark": {"type": "rule", "color": "#333333", "strokeWidth": 1.3},
   "encoding": {"y": {"datum": 0, "type": "quantitative", "scale": {"domain": [-25.96, 1.25], "nice": false, "zero": false},
     "axis": {"values": [-25, -22.5, -20, -17.5, -15, -12.5, -10, -7.5, -5, -2.5, 0], "labels": false, "ticks": false, "title": null, "grid": true,
       "gridWidth": {"condition": {"test": "datum.value % 5 === 0", "value": 1.4}, "value": 0.7}}}}},
  {"data": {"values": [{}]}, "mark": {"type": "rule", "color": "#333333", "strokeWidth": 1.3},
   "encoding": {"x": {"datum": 0, "type": "quantitative", "scale": {"domain": [-5.7, 125.8], "nice": false, "zero": false},
     "axis": {"values": [0, 12.5, 25, 37.5, 50, 62.5, 75, 87.5, 100, 112.5, 125], "labelExpr": "datum.value % 25 === 0 ? '' + datum.value : ''", "title": null, "grid": true,
       "gridWidth": {"condition": {"test": "datum.value % 25 === 0", "value": 1.4}, "value": 0.7},
       "tickOpacity": {"condition": {"test": "datum.value % 25 === 0", "value": 1}, "value": 0}}}}},
  {"data": {"name": "band"}, "transform": [{"filter": "datum.visit === 'V2'"}],
   "mark": {"type": "area", "fillOpacity": 0.4},
   "encoding": {
    "x": {"field": "t", "type": "quantitative", "scale": {"domain": [-5.7, 125.8], "nice": false, "zero": false}},
    "y": {"field": "lo", "type": "quantitative", "scale": {"domain": [-25.96, 1.25], "nice": false, "zero": false}},
    "y2": {"field": "hi"},
    "fill": {"field": "block", "type": "nominal", "scale": {"domain": [1, 2, 3], "range": ["#000000", "#FF0000", "#0000FF"]}, "legend": null}}},
  {"data": {"name": "pts"}, "transform": [{"filter": "datum.visit === 'V2'"}],
   "mark": {"type": "circle", "size": 40, "opacity": 1},
   "encoding": {
    "x": {"field": "t", "type": "quantitative", "scale": {"domain": [-5.7, 125.8], "nice": false, "zero": false}},
    "y": {"field": "v", "type": "quantitative", "scale": {"domain": [-25.96, 1.25], "nice": false, "zero": false}},
    "color": {"field": "block", "type": "nominal", "scale": {"domain": [1, 2, 3], "range": ["#000000", "#FF0000", "#0000FF"]}, "legend": null}}},
  {"data": {"name": "band"}, "transform": [{"filter": "datum.visit === 'V2'"}],
   "mark": {"type": "line", "strokeWidth": 2.2},
   "encoding": {
    "x": {"field": "t", "type": "quantitative", "scale": {"domain": [-5.7, 125.8], "nice": false, "zero": false}},
    "y": {"field": "fit", "type": "quantitative", "scale": {"domain": [-25.96, 1.25], "nice": false, "zero": false}},
    "color": {"field": "block", "type": "nominal", "scale": {"domain": [1, 2, 3], "range": ["#000000", "#FF0000", "#0000FF"]}, "legend": null}}},
  {"data": {"name": "plab"}, "transform": [{"filter": "datum.visit === 'V2' && datum.panel === 'low'"}],
   "mark": {"type": "text", "fontSize": 15, "color": "#1A1A1A"},
   "encoding": {
    "x": {"field": "x", "type": "quantitative", "scale": {"domain": [-5.7, 125.8], "nice": false, "zero": false}},
    "y": {"datum": -1.5, "type": "quantitative", "scale": {"domain": [-25.96, 1.25], "nice": false, "zero": false}},
    "text": {"field": "label"}}}
 ]}
],
"config": {
 "font": "Liberation Sans",
 "view": {"stroke": "#333333", "strokeWidth": 1.1},
 "axis": {"domain": false, "labelFont": "Liberation Sans", "labelFontSize": 16, "labelColor": "#4D4D4D", "labelPadding": 5.5, "labelFlush": false, "labelOverlap": false,
   "tickColor": "#333333", "tickWidth": 1.1, "tickSize": 5, "gridColor": "#EBEBEB",
   "titleFont": "Liberation Sans", "titleFontSize": 21, "titleFontWeight": "normal", "titleColor": "#000000", "titlePadding": 5},
 "title": {"font": "Liberation Sans", "fontSize": 26, "fontWeight": "normal", "color": "#000000", "anchor": "start", "frame": "group", "offset": 11}
}
}
